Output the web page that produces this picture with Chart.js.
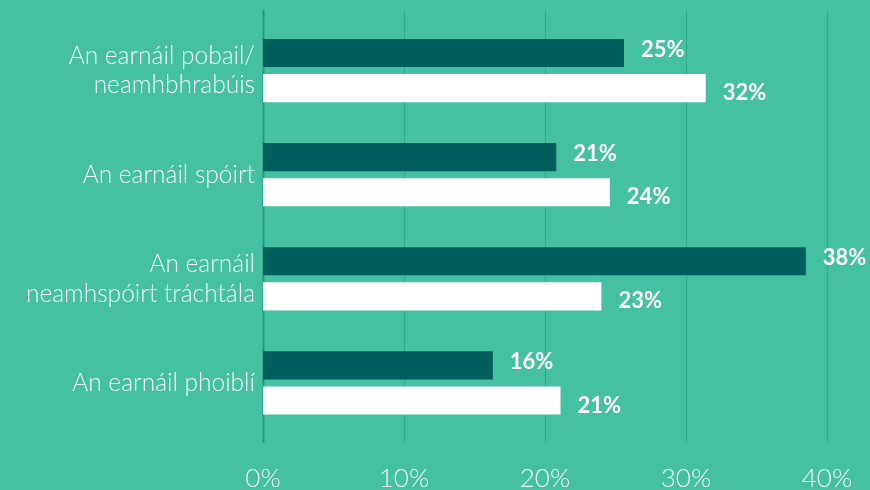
<!DOCTYPE html>
<html>
<head>
<meta charset="utf-8">
<script src="https://cdn.jsdelivr.net/npm/chart.js@4"></script>
<style>
  html, body { margin: 0; padding: 0; background: #45C0A1; }
  #wrap { width: 870px; height: 490px; }
</style>
</head>
<body>
<div id="wrap"><canvas id="chart" width="870" height="490"></canvas></div>
<script>
// Data
const categories = [
    ['An earnáil pobail/', 'neamhbhrabúis'],
    'An earnáil spóirt',
    ['An earnáil', 'neamhspóirt tráchtála'],
    'An earnáil phoiblí'
];
const darkValues = [25.6, 20.8, 38.5, 16.3];
const whiteValues = [31.4, 24.6, 24.0, 21.1];
const darkLabels = ['25%', '21%', '38%', '16%'];
const whiteLabels = ['32%', '24%', '23%', '21%'];
const xTicks = [0, 10, 20, 30, 40];

const textColor = '#F2FBF7';

// Grid lines and zero axis, drawn a bit taller than the plot area
const gridPlugin = {
    id: 'grid',
    beforeDatasetsDraw(chart) {
        const ctx = chart.ctx;
        const x = chart.scales.x;
        ctx.save();
        xTicks.forEach(t => {
            const px = Math.round(x.getPixelForValue(t)) + 0.5;
            ctx.strokeStyle = t === 0 ? '#1E9A7E' : '#2FAA8C';
            ctx.lineWidth = t === 0 ? 2 : 1;
            ctx.beginPath();
            ctx.moveTo(px, 10);
            ctx.lineTo(px, 443);
            ctx.stroke();
        });
        ctx.restore();
    },
    afterDatasetsDraw(chart) {
        const ctx = chart.ctx;
        ctx.save();
        ctx.font = 'bold 22px Lato';
        ctx.fillStyle = '#FFFFFF';
        ctx.textBaseline = 'middle';
        ctx.textAlign = 'left';
        [darkLabels, whiteLabels].forEach((labels, di) => {
            chart.getDatasetMeta(di).data.forEach((bar, i) => {
                const dy = di === 0 ? -3 : 5;
                ctx.fillText(labels[i], bar.x + 17, bar.y + dy);
            });
        });
        ctx.restore();
    }
};

new Chart(document.getElementById('chart'), {
    type: 'bar',
    data: {
        labels: categories,
        datasets: [
            {
                label: 'A',
                data: darkValues,
                backgroundColor: '#005E5C',
                borderWidth: 0,
                categoryPercentage: 0.675,
                barPercentage: 0.8
            },
            {
                label: 'B',
                data: whiteValues,
                backgroundColor: '#FFFFFF',
                borderWidth: 0,
                categoryPercentage: 0.675,
                barPercentage: 0.8
            }
        ]
    },
    options: {
        indexAxis: 'y',
        responsive: false,
        animation: false,
        layout: {
            padding: { top: 18.5, right: 43, left: 0, bottom: 0 }
        },
        plugins: {
            legend: { display: false },
            tooltip: { enabled: false }
        },
        scales: {
            x: {
                min: 0,
                max: 40,
                afterBuildTicks(scale) {
                    scale.ticks = xTicks.map(v => ({ value: v }));
                },
                afterFit(scale) {
                    scale.height = 55;
                    scale.paddingLeft = 0;
                    scale.paddingRight = 0;
                },
                grid: { display: false, drawTicks: false },
                border: { display: false },
                ticks: {
                    padding: 28,
                    color: textColor,
                    font: { family: 'Lato', size: 26, weight: '300' },
                    callback: v => v + '%'
                }
            },
            y: {
                afterFit(scale) {
                    scale.width = 263;
                    scale.paddingTop = 0;
                    scale.paddingBottom = 0;
                },
                grid: { display: false, drawTicks: false },
                border: { display: false },
                ticks: {
                    padding: 8,
                    color: textColor,
                    font: { family: 'Lato', size: 24.5, weight: '300', lineHeight: 1.22 }
                }
            }
        }
    },
    plugins: [gridPlugin]
});
</script>
</body>
</html>
